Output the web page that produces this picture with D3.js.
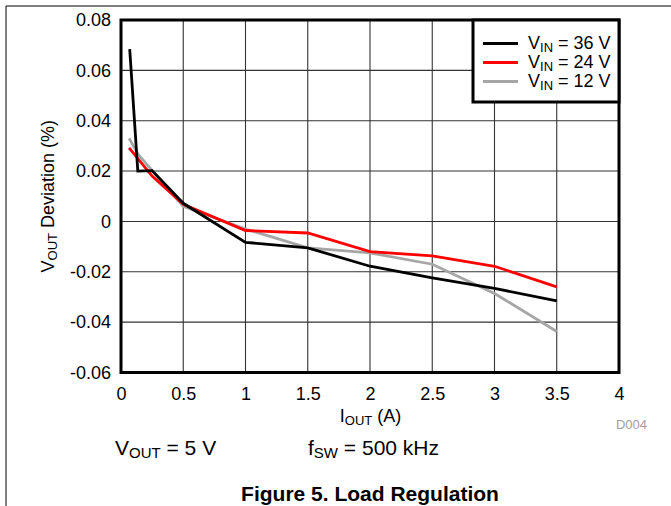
<!DOCTYPE html>
<html>
<head>
<meta charset="utf-8">
<script src="https://cdn.jsdelivr.net/npm/d3@7"></script>
<style>
  body { margin: 0; background: #fff; }
  svg { font-family: "Liberation Sans", Arial, sans-serif; }
</style>
</head>
<body>
<div id="chart"></div>
<script>
// Datos
const current36 = [0.07, 0.135, 0.25, 0.5, 1, 1.5, 2, 2.5, 3, 3.5];
const dev36 = [0.0684, 0.020, 0.0202, 0.0072, -0.0083, -0.0105, -0.0178, -0.0224, -0.0266, -0.0316];

const current24 = [0.065, 0.25, 0.5, 1, 1.5, 2, 2.5, 3, 3.5];
const dev24 = [0.0292, 0.018, 0.0068, -0.0036, -0.0046, -0.012, -0.0137, -0.0178, -0.026];

const current12 = [0.065, 0.14, 0.5, 1, 1.5, 2, 2.5, 3, 3.5];
const dev12 = [0.033, 0.0265, 0.006, -0.003, -0.0105, -0.0125, -0.017, -0.0286, -0.0437];

const xTicks = [0, 0.5, 1, 1.5, 2, 2.5, 3, 3.5, 4];
const yTicks = [-0.06, -0.04, -0.02, 0, 0.02, 0.04, 0.06, 0.08];

const seriesNames = ["36", "24", "12"];
const seriesColors = ["#000000", "#ff0000", "#a6a6a6"];

const width = 671, height = 506;
const plot = { left: 121, top: 20, right: 619, bottom: 372.5 };

const svg = d3.select("#chart").append("svg")
    .attr("width", width)
    .attr("height", height);

// Marco de la pagina
svg.append("line").attr("x1", 6).attr("x2", width).attr("y1", 6).attr("y2", 6)
    .attr("stroke", "#000").attr("stroke-width", 1);
svg.append("line").attr("x1", 6).attr("x2", 6).attr("y1", 6).attr("y2", height)
    .attr("stroke", "#000").attr("stroke-width", 1);

const x = d3.scaleLinear().domain([0, 4]).range([plot.left, plot.right]);
const y = d3.scaleLinear().domain([-0.06, 0.08]).range([plot.bottom, plot.top]);

// Rejilla
svg.append("g").selectAll("line")
    .data(xTicks.slice(1, -1))
    .enter().append("line")
    .attr("x1", d => x(d)).attr("x2", d => x(d))
    .attr("y1", plot.top).attr("y2", plot.bottom)
    .attr("stroke", "#333").attr("stroke-width", 1.1);

svg.append("g").selectAll("line")
    .data(yTicks.slice(1, -1))
    .enter().append("line")
    .attr("x1", plot.left).attr("x2", plot.right)
    .attr("y1", d => y(d)).attr("y2", d => y(d))
    .attr("stroke", "#333").attr("stroke-width", 1.1);

// Ejes
const xAxis = svg.append("g")
    .attr("transform", `translate(0,${plot.bottom})`)
    .call(d3.axisBottom(x).tickValues(xTicks).tickSize(0).tickPadding(14.5).tickFormat(d3.format("")));
const yAxis = svg.append("g")
    .attr("transform", `translate(${plot.left},0)`)
    .call(d3.axisLeft(y).tickValues(yTicks).tickSize(0).tickPadding(10)
        .tickFormat(d => d === 0 ? "0" : d.toFixed(2)));
[xAxis, yAxis].forEach(a => {
    a.select(".domain").remove();
    a.selectAll("text").attr("font-size", 18).attr("fill", "#000")
        .attr("font-family", "Liberation Sans, Arial, sans-serif");
});

// Series
const line = d3.line().x(d => x(d[0])).y(d => y(d[1]));
const series = [
    d3.zip(current36, dev36),
    d3.zip(current24, dev24),
    d3.zip(current12, dev12)
];
// orden de dibujo: gris, rojo, negro encima
[2, 1, 0].forEach(i => {
    svg.append("path")
        .datum(series[i])
        .attr("d", line)
        .attr("fill", "none")
        .attr("stroke", seriesColors[i])
        .attr("stroke-width", 2.8)
        .attr("stroke-linejoin", "miter");
});

// Borde del area de trazado
svg.append("rect")
    .attr("x", plot.left).attr("y", plot.top)
    .attr("width", plot.right - plot.left).attr("height", plot.bottom - plot.top)
    .attr("fill", "none").attr("stroke", "#000").attr("stroke-width", 3);

// Leyenda
const legend = svg.append("g");
legend.append("rect")
    .attr("x", 473).attr("y", plot.top)
    .attr("width", plot.right - 473).attr("height", 82)
    .attr("fill", "#fff").attr("stroke", "#000").attr("stroke-width", 3);
seriesNames.forEach((name, i) => {
    const ly = 43.5 + i * 19;
    legend.append("line")
        .attr("x1", 483).attr("x2", 518).attr("y1", ly).attr("y2", ly)
        .attr("stroke", seriesColors[i]).attr("stroke-width", 2.8);
    const t = legend.append("text").attr("x", 528).attr("y", ly + 5).attr("font-size", 18);
    t.append("tspan").text("V");
    t.append("tspan").attr("font-size", 13).attr("dy", 3).text("IN");
    t.append("tspan").attr("dy", -3).text(` = ${name} V`);
});

// Titulos de ejes
const xt = svg.append("text").attr("x", 370.5).attr("y", 422)
    .attr("text-anchor", "middle").attr("font-size", 18);
xt.append("tspan").text("I");
xt.append("tspan").attr("font-size", 13).attr("dy", 3).text("OUT");
xt.append("tspan").attr("dy", -3).text(" (A)");

const yt = svg.append("text")
    .attr("transform", `translate(54,${(plot.top + plot.bottom) / 2}) rotate(-90)`)
    .attr("text-anchor", "middle").attr("font-size", 18);
yt.append("tspan").text("V");
yt.append("tspan").attr("font-size", 13).attr("dy", 3).text("OUT");
yt.append("tspan").attr("dy", -3).text(" Deviation (%)");

svg.append("text").attr("x", 647).attr("y", 429)
    .attr("text-anchor", "end").attr("font-size", 13).attr("fill", "#a0a0a0")
    .text("D004");

// Condiciones
const c1 = svg.append("text").attr("x", 115).attr("y", 455).attr("font-size", 21);
c1.append("tspan").text("V");
c1.append("tspan").attr("font-size", 15).attr("dy", 3).text("OUT");
c1.append("tspan").attr("dy", -3).text(" = 5 V");

const c2 = svg.append("text").attr("x", 308).attr("y", 455).attr("font-size", 21);
c2.append("tspan").text("f");
c2.append("tspan").attr("font-size", 15).attr("dy", 3).text("SW");
c2.append("tspan").attr("dy", -3).text(" = 500 kHz");

svg.append("text").attr("x", 370).attr("y", 501)
    .attr("text-anchor", "middle").attr("font-size", 21).attr("font-weight", "bold")
    .text("Figure 5. Load Regulation");
</script>
</body>
</html>
